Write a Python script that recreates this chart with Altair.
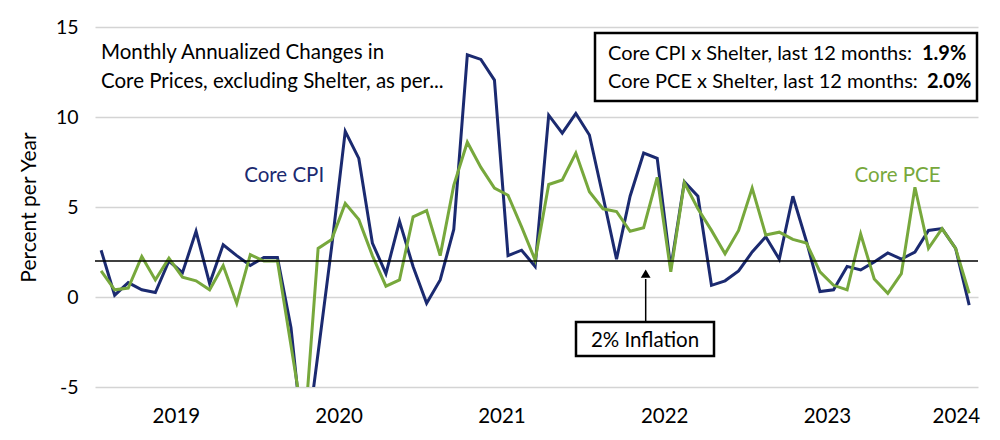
import pandas as pd
import altair as alt

# Monthly annualized changes, Jan 2019 .. May 2024
months = pd.period_range("2019-01", "2024-05", freq="M")

core_cpi = [2.6, 0.1, 0.8, 0.4, 0.25, 2.0, 1.35, 3.65, 0.75, 2.9, 2.3, 1.75,
            2.2, 2.2, -1.7, -8.9, -3.1, 2.8, 9.2, 7.7, 3.0, 1.3, 4.2, 1.7,
            -0.35, 0.95, 3.75, 13.45, 13.2, 12.05, 2.3, 2.6, 1.7, 10.1, 9.1, 10.2,
            9.0, 5.6, 2.1, 5.6, 8.0, 7.7, 1.6, 6.4, 5.6, 0.65, 0.9, 1.45,
            2.5, 3.35, 2.1, 5.6, 3.1, 0.3, 0.4, 1.7, 1.5, 1.95, 2.45, 2.1,
            2.5, 3.7, 3.8, 2.7, -0.45]
core_pce = [1.45, 0.4, 0.5, 2.25, 0.95, 2.15, 1.1, 0.9, 0.4, 1.75, -0.35, 2.35,
            2.0, 2.0, -2.7, -7.4, 2.7, 3.2, 5.2, 4.3, 2.3, 0.6, 0.95, 4.45,
            4.8, 2.3, 6.2, 8.6, 7.2, 6.05, 5.65, 3.9, 2.05, 6.25, 6.5, 8.0,
            5.85, 4.9, 4.75, 3.65, 3.85, 6.65, 1.4, 6.35, 4.9, 3.7, 2.4, 3.7,
            6.05, 3.45, 3.6, 3.2, 3.0, 1.4, 0.65, 0.4, 3.5, 1.0, 0.2, 1.3,
            6.1, 2.7, 3.8, 2.7, 0.2]

year_labels = ["2019", "2020", "2021", "2022", "2023", "2024"]
year_label_pos = [6, 18, 30, 42, 54, 63.5]
year_ticks = [12, 24, 36, 48, 60]
y_ticks = [-5, 0, 5, 10, 15]

title_lines = ["Monthly Annualized Changes in", "Core Prices, excluding Shelter, as per..."]
box_labels = ["Core CPI x Shelter, last 12 months:", "Core PCE x Shelter, last 12 months:"]
box_values = ["1.9%", "2.0%"]

FONT = "Lato"
NAVY = "#1b2a70"
GREEN = "#77a83c"
FS = 20.5
W, H = 883, 360

# month index, points sit near mid-month
t = [(p.year - 2019) * 12 + p.month - 1 + 0.45 for p in months]
df = pd.DataFrame({"t": t * 2,
                   "series": ["Core CPI"] * len(t) + ["Core PCE"] * len(t),
                   "value": core_cpi + core_pce})
one = pd.DataFrame({"a": [0]})
years = pd.DataFrame({"year": year_labels, "pos": year_label_pos})

x_enc = alt.X("t:Q", scale=alt.Scale(domain=[0, 65.1], nice=False, zero=False),
              axis=alt.Axis(values=year_ticks, labels=False, grid=False, title=None,
                            domainColor="black", domainWidth=2.5,
                            tickColor="black", tickWidth=2.5, tickSize=10))
y_enc = alt.Y("value:Q", scale=alt.Scale(domain=[-5, 15], nice=False),
              axis=alt.Axis(values=y_ticks, grid=True, gridColor="#d4d4d4", gridWidth=1.5,
                            domain=False, ticks=False, labelPadding=17,
                            labelExpr="'' + datum.value",
                            labelFont=FONT, labelFontSize=19.5, labelColor="black",
                            title="Percent per Year", titleFont=FONT, titleFontSize=21,
                            titleFontWeight="normal", titleColor="black", titlePadding=16))

base = alt.Chart(df).encode(x=x_enc, y=y_enc)
cpi_line = base.transform_filter(alt.datum.series == "Core CPI").mark_line(
    color=NAVY, strokeWidth=3, clip=True, strokeJoin="miter")
pce_line = base.transform_filter(alt.datum.series == "Core PCE").mark_line(
    color=GREEN, strokeWidth=3, clip=True, strokeJoin="miter")

two_pct = alt.Chart(one).mark_rule(color="black", strokeWidth=1.3).encode(y=alt.datum(2))

txt = dict(font=FONT, fontSize=FS, color="black", baseline="alphabetic")
box_txt = dict(txt, fontSize=20)

year_text = alt.Chart(years).mark_text(align="center", **txt).encode(
    x=alt.X("pos:Q", axis=None), y=alt.value(H + 36), text="year:N")

title1 = alt.Chart(one).mark_text(align="left", **txt).encode(
    x=alt.value(6), y=alt.value(32), text=alt.value(title_lines[0]))
title2 = alt.Chart(one).mark_text(align="left", **txt).encode(
    x=alt.value(6), y=alt.value(61), text=alt.value(title_lines[1]))

box = alt.Chart(one).mark_rect(fill="white", stroke="black", strokeWidth=2.5).encode(
    x=alt.value(500), x2=alt.value(882), y=alt.value(6), y2=alt.value(74))
box_l1 = alt.Chart(one).mark_text(align="left", **box_txt).encode(
    x=alt.value(513), y=alt.value(33), text=alt.value(box_labels[0]))
box_l2 = alt.Chart(one).mark_text(align="left", **box_txt).encode(
    x=alt.value(513), y=alt.value(61), text=alt.value(box_labels[1]))
box_v1 = alt.Chart(one).mark_text(align="left", fontWeight="bold", **box_txt).encode(
    x=alt.value(827), y=alt.value(33), text=alt.value(box_values[0]))
box_v2 = alt.Chart(one).mark_text(align="left", fontWeight="bold", **box_txt).encode(
    x=alt.value(832), y=alt.value(61), text=alt.value(box_values[1]))

cpi_label = alt.Chart(one).mark_text(align="left", font=FONT, fontSize=FS, color=NAVY).encode(
    x=alt.datum(11.0), y=alt.datum(6.7), text=alt.value("Core CPI"))
pce_label = alt.Chart(one).mark_text(align="left", font=FONT, fontSize=FS, color=GREEN).encode(
    x=alt.datum(56.0), y=alt.datum(6.7), text=alt.value("Core PCE"))

arrow_shaft = alt.Chart(one).mark_rule(color="black", strokeWidth=1.5).encode(
    x=alt.datum(40.6), y=alt.datum(1.0), y2=alt.datum(-1.4))
arrow_head = alt.Chart(one).mark_point(shape="triangle-up", filled=True, size=95,
                                       color="black", opacity=1).encode(
    x=alt.datum(40.6), y=alt.datum(1.3))
infl_box = alt.Chart(one).mark_rect(fill="white", stroke="black", strokeWidth=2.5).encode(
    x=alt.value(481), x2=alt.value(619), y=alt.value(295), y2=alt.value(329))
infl_text = alt.Chart(one).mark_text(align="center", **txt).encode(
    x=alt.value(550), y=alt.value(320), text=alt.value("2% Inflation"))

chart = alt.layer(
    cpi_line, pce_line, two_pct, year_text, title1, title2,
    box, box_l1, box_l2, box_v1, box_v2, cpi_label, pce_label,
    arrow_shaft, arrow_head, infl_box, infl_text
).properties(
    width=W, height=H,
    autosize=alt.AutoSizeParams(type="none"),
    padding={"left": 87, "top": 19, "right": 10, "bottom": 45},
).configure_view(stroke=None)

chart.save("out.html", embed_options={"renderer": "svg", "actions": False})
